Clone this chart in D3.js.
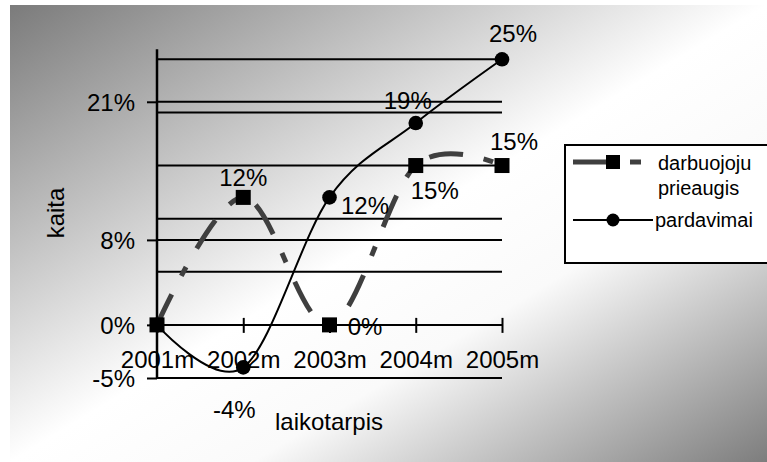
<!DOCTYPE html>
<html>
<head>
<meta charset="utf-8">
<script src="https://cdn.jsdelivr.net/npm/d3@7/dist/d3.min.js"></script>
<style>
  html, body { margin: 0; padding: 0; background: #ffffff; }
  svg { display: block; }
  text { font-family: "Liberation Sans", Arial, sans-serif; fill: #000; }
</style>
</head>
<body>
<svg id="chart" width="767" height="462"></svg>
<script>
// ---- data ----
const categories = ["2001m", "2002m", "2003m", "2004m", "2005m"];
const darbuojojuValues = [0, 12, 0, 15, 15];
const pardavimaiValues = [0, -4, 12, 19, 25];
const seriesNames = ["darbuojoju prieaugis", "pardavimai"];
const yTickValues = [-5, 0, 8, 21];
const gridValues = [-5, 0, 5, 8, 10, 15, 20, 21, 25];
const yDomain = [-5, 25];
const xTitle = "laikotarpis";
const yTitle = "kaita";

// ---- layout ----
const svg = d3.select("#chart");
const W = 767, H = 462;
const plotLeft = 157, plotRight = 502, plotTop = 59.3, plotBottom = 378;
const fmt = d => d + "%";

const x = d3.scalePoint().domain(categories).range([plotLeft, plotRight]);
const y = d3.scaleLinear().domain(yDomain).range([plotBottom, plotTop]);

// background gradient
const defs = svg.append("defs");
const grad = defs.append("linearGradient").attr("id", "bg")
  .attr("x1", 0).attr("y1", 0).attr("x2", 1).attr("y2", 1);
grad.append("stop").attr("offset", 0).attr("stop-color", "#7b7b7b");
grad.append("stop").attr("offset", 0.5).attr("stop-color", "#ffffff");
grad.append("stop").attr("offset", 0.66).attr("stop-color", "#fafafa");
grad.append("stop").attr("offset", 1).attr("stop-color", "#7d7d7d");
svg.append("rect").attr("x", 10).attr("y", 5).attr("width", W - 10).attr("height", H - 5)
  .attr("fill", "url(#bg)");

// gridlines
svg.append("g").selectAll("line").data(gridValues).join("line")
  .attr("x1", plotLeft).attr("x2", plotRight)
  .attr("y1", d => y(d)).attr("y2", d => y(d))
  .attr("stroke", "#000").attr("stroke-width", 2);

// y axis
const yAxis = svg.append("g").attr("transform", `translate(${plotLeft},0)`)
  .call(d3.axisLeft(y).tickValues(yTickValues).tickFormat(fmt).tickSize(10).tickPadding(12));
yAxis.select(".domain").remove();
yAxis.selectAll(".tick line").attr("stroke", "#000").attr("stroke-width", 2);
yAxis.selectAll(".tick text").attr("font-size", 24).attr("dy", "0.35em")
  .style("font-family", "'Liberation Sans', Arial, sans-serif");
svg.append("line").attr("x1", plotLeft).attr("x2", plotLeft)
  .attr("y1", plotTop - 10).attr("y2", plotBottom + 1)
  .attr("stroke", "#000").attr("stroke-width", 2.5);

// x axis along 0%
const xAxis = svg.append("g").attr("transform", `translate(0,${y(0)})`)
  .call(d3.axisBottom(x).tickSize(8).tickPadding(0));
xAxis.select(".domain").attr("stroke", "#000").attr("stroke-width", 2)
  .attr("d", `M${plotLeft},0H${plotRight}`);
xAxis.selectAll(".tick line").attr("y1", -7).attr("y2", 8)
  .attr("stroke", "#000").attr("stroke-width", 2);
xAxis.selectAll(".tick text").attr("font-size", 24).attr("y", 35).attr("dy", "0.35em")
  .style("font-family", "'Liberation Sans', Arial, sans-serif");

// axis titles
svg.append("text").text(yTitle).attr("font-size", 24).attr("text-anchor", "middle")
  .attr("transform", "translate(56,213) rotate(-90)").attr("dy", "0.35em");
svg.append("text").text(xTitle).attr("font-size", 24).attr("text-anchor", "middle")
  .attr("x", 329).attr("y", 422).attr("dy", "0.35em");

// series lines
const line = d3.line().x((d, i) => x(categories[i])).y(d => y(d))
  .curve(d3.curveCardinal.tension(0));
const dashPattern = "34,21,10,21";
svg.append("path").datum(darbuojojuValues).attr("d", line)
  .attr("fill", "none").attr("stroke", "#3f3f3f").attr("stroke-width", 5)
  .attr("stroke-dasharray", dashPattern);
svg.append("path").datum(pardavimaiValues).attr("d", line)
  .attr("fill", "none").attr("stroke", "#000").attr("stroke-width", 2);

// markers
const sq = 15;
svg.append("g").selectAll("rect").data(darbuojojuValues).join("rect")
  .attr("x", (d, i) => x(categories[i]) - sq / 2).attr("y", d => y(d) - sq / 2)
  .attr("width", sq).attr("height", sq).attr("fill", "#000");
svg.append("g").selectAll("circle").data(pardavimaiValues).join("circle")
  .attr("cx", (d, i) => x(categories[i])).attr("cy", d => y(d))
  .attr("r", 7.3).attr("fill", "#000");

// data labels (offsets relative to each point, index 0 unlabeled)
const sqLabelOffsets = [null, [0, -19.4], [35.5, 2], [19, 25.4], [12, -23.6]];
const ciLabelOffsets = [null, [-9, 42.5], [35.5, 8.6], [-8, -22], [11, -25.3]];
function labels(values, offsets) {
  const pts = values.map((v, i) => ({ v, i, o: offsets[i] })).filter(p => p.o);
  svg.append("g").selectAll("text").data(pts).join("text")
    .attr("x", p => x(categories[p.i]) + p.o[0])
    .attr("y", p => y(p.v) + p.o[1])
    .attr("dy", "0.35em").attr("text-anchor", "middle").attr("font-size", 24)
    .text(p => fmt(p.v));
}
labels(darbuojojuValues, sqLabelOffsets);
labels(pardavimaiValues, ciLabelOffsets);

// legend
const lg = svg.append("g");
lg.append("rect").attr("x", 565).attr("y", 145).attr("width", 230).attr("height", 118)
  .attr("fill", "#fff").attr("stroke", "#000").attr("stroke-width", 2);
// entry 1
lg.append("line").attr("x1", 573).attr("x2", 641).attr("y1", 162).attr("y2", 162)
  .attr("stroke", "#3f3f3f").attr("stroke-width", 5).attr("stroke-dasharray", "36,21,11,21");
lg.append("rect").attr("x", 613 - 7).attr("y", 162 - 7).attr("width", 14).attr("height", 14).attr("fill", "#000");
const t1 = lg.append("text").attr("font-size", 20).attr("x", 658).attr("y", 170);
const words = seriesNames[0].split(" ");
t1.selectAll("tspan").data(words).join("tspan")
  .attr("x", 658).attr("dy", (d, i) => i === 0 ? 0 : 25).text(d => d);
// entry 2
lg.append("line").attr("x1", 573).attr("x2", 653).attr("y1", 220).attr("y2", 220)
  .attr("stroke", "#000").attr("stroke-width", 2);
lg.append("circle").attr("cx", 613).attr("cy", 220).attr("r", 6.5).attr("fill", "#000");
lg.append("text").attr("font-size", 20).attr("x", 655).attr("y", 227).text(seriesNames[1]);
</script>
</body>
</html>
